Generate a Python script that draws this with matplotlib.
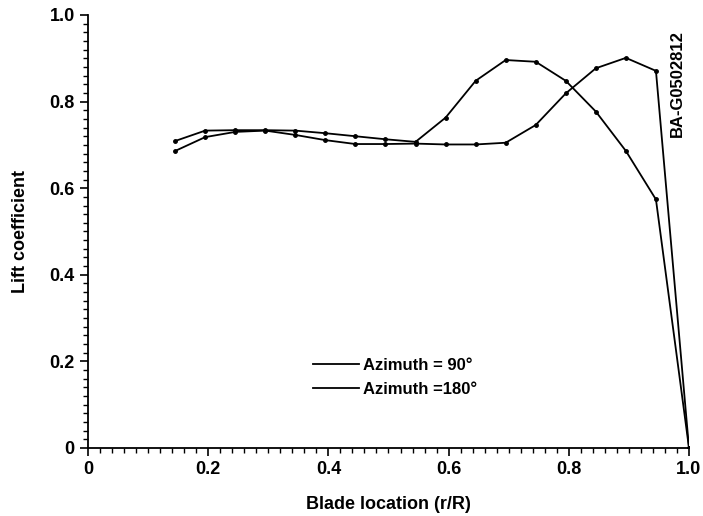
import numpy as np
import matplotlib.pyplot as plt
from matplotlib.ticker import MultipleLocator

# blade station r/R and lift coefficient
r_R = [0.145, 0.195, 0.245, 0.295, 0.345, 0.395, 0.445, 0.495, 0.545,
       0.595, 0.645, 0.695, 0.745, 0.795, 0.845, 0.895, 0.945, 1.0]
cl_az90 = [0.709, 0.733, 0.734, 0.734, 0.733, 0.727, 0.720, 0.713, 0.707,
           0.763, 0.848, 0.896, 0.892, 0.848, 0.777, 0.686, 0.574, 0.0]
cl_az180 = [0.686, 0.718, 0.730, 0.733, 0.723, 0.711, 0.702, 0.702, 0.703,
            0.701, 0.701, 0.705, 0.746, 0.819, 0.877, 0.901, 0.871, 0.0]

labels = ["Azimuth = 90°", "Azimuth =180°"]
xticks = [0, 0.2, 0.4, 0.6, 0.8, 1.0]
xticklabels = ["0", "0.2", "0.4", "0.6", "0.8", "1.0"]
yticks = [0, 0.2, 0.4, 0.6, 0.8, 1.0]
yticklabels = ["0", "0.2", "0.4", "0.6", "0.8", "1.0"]

plt.rcParams['font.family'] = ['Liberation Sans', 'DejaVu Sans']

fig = plt.figure(figsize=(7.03, 5.16), dpi=100)
ax = fig.add_axes([88 / 703, 68 / 516, 601 / 703, 433 / 516])

ax.plot(r_R, cl_az90, color='black', lw=1.3, marker='o', ms=2.5, label=labels[0])
ax.plot(r_R, cl_az180, color='black', lw=1.3, marker='o', ms=2.5, label=labels[1])

ax.set_xlim(0, 1.0)
ax.set_ylim(0, 1.0)
ax.spines['top'].set_visible(False)
ax.spines['right'].set_visible(False)
ax.spines['left'].set_linewidth(1.3)
ax.spines['bottom'].set_linewidth(1.3)

ax.set_xticks(xticks)
ax.set_xticklabels(xticklabels)
ax.set_yticks(yticks)
ax.set_yticklabels(yticklabels)
ax.xaxis.set_minor_locator(MultipleLocator(0.02))
ax.yaxis.set_minor_locator(MultipleLocator(0.02))
ax.tick_params(which='major', direction='out', length=6, width=1.2, labelsize=13)
ax.tick_params(which='minor', direction='out', length=3.5, width=1.0)
for t in ax.get_xticklabels() + ax.get_yticklabels():
    t.set_fontweight('bold')

ax.set_xlabel("Blade location (r/R)", fontsize=13, fontweight='bold', labelpad=13)
ax.set_ylabel("Lift coefficient", fontsize=13, fontweight='bold', labelpad=15)

leg = ax.legend(loc='upper left', bbox_to_anchor=(0.349, 0.242), frameon=False,
                handlelength=2.75, handletextpad=0.25, labelspacing=0.5,
                prop={'size': 12, 'weight': 'bold'})
for h in leg.legend_handles:
    h.set_marker('')

ax.text(0.981, 0.965, "BA-G0502812", rotation=90, ha='center', va='top',
        fontsize=12, fontweight='bold', transform=ax.transAxes)

fig.savefig("out.png", dpi=100)
